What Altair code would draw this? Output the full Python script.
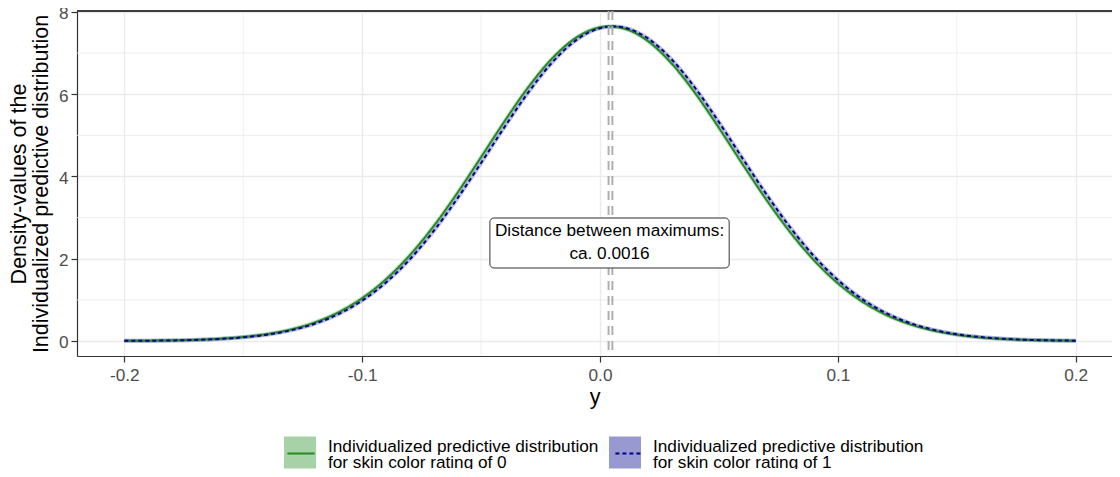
import altair as alt
import pandas as pd

# ---- data ----
x_0 = [-0.20, -0.19, -0.18, -0.17, -0.16, -0.15, -0.14, -0.13, -0.12, -0.11,
       -0.10, -0.09, -0.08, -0.07, -0.06, -0.05, -0.04, -0.03, -0.02, -0.01,
       0.00, 0.004, 0.01, 0.02, 0.03, 0.04, 0.05, 0.06, 0.07, 0.08, 0.09,
       0.10, 0.11, 0.12, 0.13, 0.14, 0.15, 0.16, 0.17, 0.18, 0.19, 0.20]
dens_0 = [0.004, 0.008, 0.015, 0.029, 0.054, 0.097, 0.168, 0.280, 0.451, 0.698,
          1.043, 1.502, 2.085, 2.789, 3.598, 4.471, 5.355, 6.183, 6.880, 7.378,
          7.627, 7.650, 7.600, 7.297, 6.754, 6.026, 5.181, 4.293, 3.429, 2.640, 1.959,
          1.401, 0.965, 0.641, 0.411, 0.254, 0.151, 0.086, 0.048, 0.025, 0.013, 0.007]

x_1 = [-0.20, -0.19, -0.18, -0.17, -0.16, -0.15, -0.14, -0.13, -0.12, -0.11,
       -0.10, -0.09, -0.08, -0.07, -0.06, -0.05, -0.04, -0.03, -0.02, -0.01,
       0.00, 0.0056, 0.01, 0.02, 0.03, 0.04, 0.05, 0.06, 0.07, 0.08, 0.09,
       0.10, 0.11, 0.12, 0.13, 0.14, 0.15, 0.16, 0.17, 0.18, 0.19, 0.20]
dens_1 = [0.003, 0.007, 0.013, 0.026, 0.049, 0.089, 0.154, 0.259, 0.418, 0.653,
          0.981, 1.421, 1.984, 2.669, 3.463, 4.329, 5.216, 6.057, 6.780, 7.315,
          7.606, 7.650, 7.623, 7.363, 6.855, 6.152, 5.321, 4.435, 3.563, 2.759, 2.060,
          1.482, 1.027, 0.687, 0.442, 0.275, 0.164, 0.095, 0.053, 0.028, 0.015, 0.007]

series_labels = [
    "Individualized predictive distribution| for skin color rating of 0",
    "Individualized predictive distribution| for skin color rating of 1",
]
line_colors = ["#228B22", "#00008B"]
peak_x = [0.0036, 0.0052]

label_text = ["Distance between maximums:", "ca. 0.0016"]
label_x = [0.0040]
label_y = [2.675]
box_x = [-0.0463]
box_x2 = [0.0543]
box_y = [1.775]
box_y2 = [2.99]

x_ticks = [-0.2, -0.1, 0.0, 0.1, 0.2]
x_minor = [-0.15, -0.05, 0.05, 0.15]
y_ticks = [0, 2, 4, 6, 8]
y_minor = [1, 3, 5, 7]

X_DOMAIN = [-0.21989, 0.21525]
Y_DOMAIN = [-0.365, 8.024]
W, H = 1035, 345
FONT = "Liberation Sans"
SMALL = 17.2
BIG = 21.5

# ---- tables ----
curves = pd.concat([
    pd.DataFrame({"x": x_0, "d": dens_0, "series": series_labels[0], "band": series_labels[0]}),
    pd.DataFrame({"x": x_1, "d": dens_1, "series": series_labels[1], "band": series_labels[1]}),
], ignore_index=True)
peaks = pd.DataFrame({"x": peak_x})
minor_x = pd.DataFrame({"x": x_minor})
minor_y = pd.DataFrame({"y": y_minor})
box = pd.DataFrame({"x": box_x, "x2": box_x2, "y": box_y, "y2": box_y2})
lab = pd.DataFrame({"x": label_x, "y": label_y, "t": [label_text]})

xs = alt.Scale(domain=X_DOMAIN, nice=False, zero=False)
ys = alt.Scale(domain=Y_DOMAIN, nice=False, zero=False)

x_axis = alt.Axis(values=x_ticks, title="y", grid=True, gridColor="#EBEBEB", gridWidth=1.4,
                  labelExpr="replace(format(datum.value, '.1f'), '\u2212', '-')",
                  domain=True, domainColor="#333333", domainWidth=1.2,
                  tickColor="#333333", tickSize=6, tickWidth=1.2,
                  labelFont=FONT, labelFontSize=SMALL, labelColor="#4D4D4D", labelPadding=4,
                  titleFont=FONT, titleFontSize=BIG, titleFontWeight="normal", titleColor="black",
                  titlePadding=3)
y_axis = alt.Axis(values=y_ticks, title=["Density-values of the", "Individualized predictive distribution"],
                  grid=True, gridColor="#EBEBEB", gridWidth=1.4, format="d",
                  domain=True, domainColor="#333333", domainWidth=1.2,
                  tickColor="#333333", tickSize=6, tickWidth=1.2,
                  labelFont=FONT, labelFontSize=SMALL, labelColor="#4D4D4D", labelPadding=3,
                  labelOffset=2,
                  titleFont=FONT, titleFontSize=BIG, titleFontWeight="normal", titleColor="black",
                  titleLineHeight=22, titlePadding=6)

base = alt.Chart(curves)

grid_x = alt.Chart(minor_x).mark_rule(color="#EBEBEB", strokeWidth=0.8).encode(
    x=alt.X("x:Q", scale=xs, axis=x_axis))
grid_y = alt.Chart(minor_y).mark_rule(color="#EBEBEB", strokeWidth=0.8).encode(
    y=alt.Y("y:Q", scale=ys, axis=y_axis))

top_border = alt.Chart(minor_x).mark_rule(color="#333333", strokeWidth=1.2).encode(
    x=alt.value(0), x2=alt.value(W), y=alt.value(0))

legend_common = dict(orient="none", legendX=207, legendY=425, direction="horizontal", title=None,
                     symbolSize=1024, labelExpr="split(datum.label, '|')",
                     labelFont=FONT, labelFontSize=SMALL, labelColor="black", labelOffset=12,
                     labelLimit=600, columnPadding=10, padding=0, labelBaseline="alphabetic")

# legend-only layer for the ribbon fills (points sit outside the clipped plot area)
fill_key = base.mark_point(shape="square", filled=True, clip=True).encode(
    x=alt.X("x:Q", scale=xs),
    y=alt.value(-60),
    fill=alt.Fill("band:N", scale=alt.Scale(range=line_colors),
                  legend=alt.Legend(symbolType="square", symbolOpacity=0.4, symbolStrokeWidth=0,
                                    **legend_common)),
)

ribbon = base.mark_line(interpolate="monotone", strokeWidth=4, opacity=0.25).encode(
    x=alt.X("x:Q", scale=xs),
    y=alt.Y("d:Q", scale=ys),
    detail="band:N",
    color=alt.Color("band:N", scale=alt.Scale(range=line_colors), legend=None),
)

lines = base.mark_line(interpolate="monotone", strokeWidth=2).encode(
    x=alt.X("x:Q", scale=xs),
    y=alt.Y("d:Q", scale=ys),
    stroke=alt.Stroke("series:N", scale=alt.Scale(domain=series_labels, range=line_colors),
                      legend=alt.Legend(symbolType="M-0.85,0H0.85", symbolStrokeWidth=2,
                                        labelOpacity=0, **legend_common)),
    strokeDash=alt.StrokeDash("series:N", scale=alt.Scale(domain=series_labels, range=[[1, 0], [4, 3]]),
                              legend=alt.Legend(symbolType="M-0.85,0H0.85", symbolStrokeWidth=2,
                                                labelOpacity=0, **legend_common)),
)

vlines = alt.Chart(peaks).mark_rule(color="#AFAFAF", strokeWidth=2, strokeDash=[9, 6]).encode(
    x=alt.X("x:Q", scale=xs))

label_box = alt.Chart(box).mark_rect(fill="white", stroke="#333333", strokeWidth=1, cornerRadius=4).encode(
    x=alt.X("x:Q", scale=xs), x2="x2:Q", y=alt.Y("y:Q", scale=ys), y2="y2:Q")

label = alt.Chart(lab).mark_text(font=FONT, fontSize=SMALL, color="black", lineHeight=23,
                                 align="center", baseline="middle").encode(
    x=alt.X("x:Q", scale=xs), y=alt.Y("y:Q", scale=ys), text="t")

chart = alt.layer(grid_x, grid_y, top_border, fill_key, ribbon, lines, vlines, label_box, label).properties(
    width=W, height=H,
    autosize=alt.AutoSizeParams(type="none"),
    padding={"left": 69, "top": 3, "right": 0, "bottom": 113},
).resolve_scale(color="independent").configure_view(stroke=None).configure(
    background="white", style={"guide-label": {"lineHeight": 16}})

chart.save("out.html", embed_options={"renderer": "svg", "actions": False})
